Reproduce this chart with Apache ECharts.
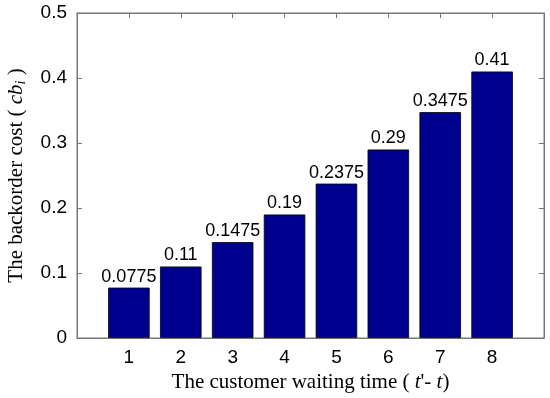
<!DOCTYPE html>
<html><head><meta charset="utf-8">
<script src="https://cdn.jsdelivr.net/npm/echarts@6/dist/echarts.min.js"></script>
<style>html,body{margin:0;padding:0;background:#fff}#c{width:550px;height:398px}</style>
</head><body><div id="c"></div>
<script>
const categories = [1, 2, 3, 4, 5, 6, 7, 8];
const values = [0.0775, 0.11, 0.1475, 0.19, 0.2375, 0.29, 0.3475, 0.41];
const yTicks = [0, 0.1, 0.2, 0.3, 0.4, 0.5];

const chart = echarts.init(document.getElementById('c'), null, {renderer: 'canvas'});
const axisColor = '#777';
const sans = 'Liberation Sans';
const serif = 'Liberation Serif';
const nameSize = 21;
chart.setOption({
  animation: false,
  grid: {left: 77, right: 6, top: 13, bottom: 60, show: true, borderColor: axisColor, borderWidth: 1,
    outerBoundsMode: 'none', containLabel: false},
  xAxis: [{
    type: 'value', min: 0, max: 9, interval: 1,
    axisLine: {lineStyle: {color: axisColor}},
    axisTick: {inside: true, length: 5, lineStyle: {color: axisColor},
      customValues: categories},
    axisLabel: {margin: 10, customValues: categories,
      formatter: v => (categories.indexOf(v) >= 0 ? String(v) : ''),
      fontFamily: sans, fontSize: 19, color: '#000'},
    splitLine: {show: false},
    name: '{n|The customer waiting time ( }{i|t}{n|\'- }{i|t}{n|)}',
    nameLocation: 'middle', nameGap: 32,
    nameTextStyle: {fontFamily: serif, fontSize: nameSize, color: '#000', rich: {
      n: {fontFamily: serif, fontSize: nameSize, color: '#000'},
      i: {fontFamily: serif, fontSize: nameSize, fontStyle: 'italic', color: '#000'}
    }}
  }, {
    type: 'value', min: 0, max: 9, interval: 1, position: 'top',
    axisLine: {show: true, onZero: false, lineStyle: {color: axisColor}},
    axisTick: {show: true, inside: true, length: 5, lineStyle: {color: axisColor}, customValues: categories},
    axisLabel: {show: false}, splitLine: {show: false}
  }],
  yAxis: [{
    type: 'value', min: 0, max: 0.5, interval: 0.1,
    axisLine: {show: true, lineStyle: {color: axisColor}},
    axisTick: {show: true, inside: true, length: 5, lineStyle: {color: axisColor}},
    axisLabel: {margin: 10, formatter: v => String(+v.toFixed(1)),
      fontFamily: sans, fontSize: 19, color: '#000'},
    splitLine: {show: false},
    name: '{n|The backorder cost ( }{i|cb}{s|i}{n| )}',
    nameLocation: 'middle', nameGap: 49, nameRotate: 90,
    nameTextStyle: {fontFamily: serif, fontSize: nameSize, color: '#000', rich: {
      n: {fontFamily: serif, fontSize: nameSize, color: '#000'},
      i: {fontFamily: serif, fontSize: nameSize, fontStyle: 'italic', color: '#000'},
      s: {fontFamily: serif, fontSize: 14, fontStyle: 'italic', color: '#000', padding: [10, 0, 0, 0]}
    }}
  }, {
    type: 'value', min: 0, max: 0.5, interval: 0.1, position: 'right',
    axisLine: {show: true, onZero: false, lineStyle: {color: axisColor}},
    axisTick: {show: true, inside: true, length: 5, lineStyle: {color: axisColor}},
    axisLabel: {show: false}, splitLine: {show: false}
  }],
  series: [{
    type: 'bar', xAxisIndex: 0, yAxisIndex: 0,
    data: categories.map((c, i) => [c, values[i]]),
    barWidth: 41.5,
    itemStyle: {color: '#00008F', borderColor: '#000', borderWidth: 0.8},
    label: {show: true, position: 'top', distance: 2,
      formatter: p => String(p.value[1]),
      fontFamily: sans, fontSize: 18, color: '#000'}
  }, {
    type: 'line', xAxisIndex: 1, yAxisIndex: 1, data: [], silent: true, showSymbol: false
  }]
});
</script></body></html>
